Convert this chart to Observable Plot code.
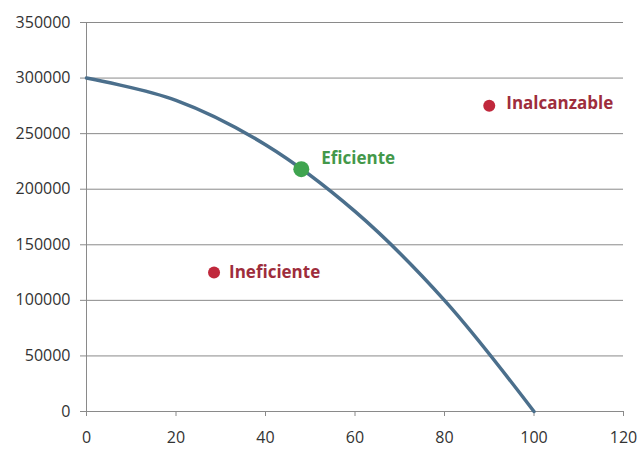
<!DOCTYPE html>
<html><head><meta charset="utf-8">
<script src="https://cdn.jsdelivr.net/npm/d3@7"></script>
<script src="https://cdn.jsdelivr.net/npm/@observablehq/plot@0.6"></script>
<style>body{margin:0;background:#fff}</style>
</head><body><div id="chart"></div>
<script>
const curveX = [0, 20, 40, 60, 80, 100];
const curveY = [300000, 280000, 240000, 180000, 100000, 0];
const pointLabels = ["Eficiente", "Ineficiente", "Inalcanzable"];
const pointX = [48, 28.5, 90];
const pointY = [218000, 125000, 275000];
const xTicks = [0, 20, 40, 60, 80, 100, 120];
const yTicks = [0, 50000, 100000, 150000, 200000, 250000, 300000, 350000];

const curve = curveX.map((x, i) => ({x, y: curveY[i]}));
const points = pointLabels.map((label, i) => ({label, x: pointX[i], y: pointY[i]}));

const green = "#3fa44f", red = "#c0283c", redText = "#9e2d3c", greenText = "#43984a";
const labelStyle = {x: "x", y: "y", text: "label", textAnchor: "start", fontWeight: "bold", fontSize: 17};

const chart = Plot.plot({
  width: 640, height: 457,
  marginLeft: 86, marginRight: 17, marginTop: 22, marginBottom: 46,
  style: {fontFamily: "'Open Sans', sans-serif", fontSize: "16px", background: "#fff", color: "#333"},
  x: {domain: [0, 120], axis: null},
  y: {domain: [0, 350000], axis: null},
  marks: [
    Plot.gridY(yTicks, {stroke: "#8a8a8a", strokeOpacity: 1}),
    Plot.ruleX([0], {stroke: "#8a8a8a"}),
    Plot.ruleY([0], {stroke: "#8a8a8a"}),
    Plot.axisX(xTicks, {tickSize: 5, tickPadding: 15, tickFormat: d3.format("d"), stroke: "#8a8a8a", fill: "#333", label: null}),
    Plot.axisY(yTicks, {tickSize: 6, tickPadding: 10, tickFormat: d3.format("d"), stroke: "#8a8a8a", fill: "#333", label: null}),
    Plot.line(curve, {x: "x", y: "y", curve: "catmull-rom", stroke: "#4b6f8c", strokeWidth: 3.5}),
    Plot.dot(points.filter(d => d.label === "Eficiente"), {x: "x", y: "y", r: 8, fill: green}),
    Plot.dot(points.filter(d => d.label !== "Eficiente"), {x: "x", y: "y", r: 6, fill: red}),
    Plot.text(points.filter(d => d.label === "Eficiente"), {...labelStyle, dx: 20, dy: -11, fill: greenText}),
    Plot.text(points.filter(d => d.label === "Ineficiente"), {...labelStyle, dx: 15, fill: redText}),
    Plot.text(points.filter(d => d.label === "Inalcanzable"), {...labelStyle, dx: 17, dy: -2, fill: redText})
  ]
});
document.getElementById("chart").appendChild(chart);
</script>
</body></html>
